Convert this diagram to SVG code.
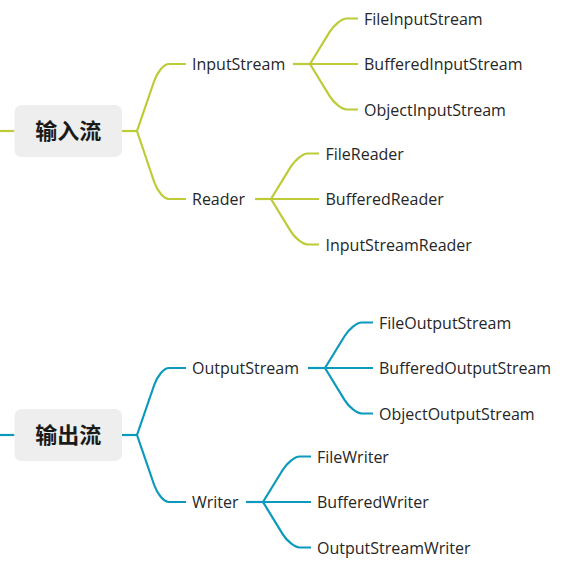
<svg xmlns="http://www.w3.org/2000/svg" width="581" height="579" viewBox="0 0 581 579">
<style>
.bg{fill:#ffffff}
.root{fill:#eeeeee}
.rt{font-family:"Noto Sans CJK SC","Noto Sans",sans-serif;font-size:22px;font-weight:bold;fill:#1a1a1a;text-anchor:middle}
.t{font-family:"Open Sans","Noto Sans",sans-serif;font-size:16px;fill:#262626}
.g path{fill:none;stroke:#bccb36;stroke-width:2.2;stroke-linecap:butt;stroke-linejoin:round}
.b path{fill:none;stroke:#0c99bd;stroke-width:2.2;stroke-linecap:butt;stroke-linejoin:round}
</style>
<rect class="bg" x="0" y="0" width="581" height="579"/>
<g id="connectors">
  <g class="g">
    <path d="M0,131 H14.5"/>
    <path d="M122,131 H137"/>
    <path d="M137,131 L154.2,81 C157.4,71.7 164,64 169,64 H186"/>
    <path d="M137,131 L154.2,182 C157.4,191.3 164,199 169,199 H186"/>
    <path d="M293,64 H310"/>
    <path d="M310,64 L329.5,32.2 C334.1,24.7 341.8,18.5 346.7,18.5 H358"/>
    <path d="M310,64 H358"/>
    <path d="M310,64 L329.5,95.8 C334.1,103.3 341.8,109.5 346.7,109.5 H358"/>
    <path d="M255,199 H271"/>
    <path d="M271,199 L290.5,167.2 C295.1,159.7 302.8,153.5 307.7,153.5 H319"/>
    <path d="M271,199 H319"/>
    <path d="M271,199 L290.5,230.8 C295.1,238.3 302.8,244.5 307.7,244.5 H319"/>
  </g>
  <g class="b">
    <path d="M0,435 H14.5"/>
    <path d="M122,435 H137"/>
    <path d="M137,435 L154.2,385 C157.4,375.7 164,368 169,368 H186"/>
    <path d="M137,435 L154.2,485 C157.4,494.3 164,502 169,502 H186"/>
    <path d="M308,368 H325"/>
    <path d="M325,368 L344.5,336.2 C349.1,328.7 356.8,322.5 361.7,322.5 H373"/>
    <path d="M325,368 H373"/>
    <path d="M325,368 L344.5,399.8 C349.1,407.3 356.8,413.5 361.7,413.5 H373"/>
    <path d="M246,502 H263"/>
    <path d="M263,502 L282.5,470.2 C287.1,462.7 294.8,456.5 299.7,456.5 H311"/>
    <path d="M263,502 H311"/>
    <path d="M263,502 L282.5,533.8 C287.1,541.3 294.8,547.5 299.7,547.5 H311"/>
  </g>
</g>
<g id="input-root"><rect class="root" x="14.5" y="105" width="107.5" height="52" rx="7"/><text class="rt" x="68.3" y="138.5">输入流</text></g>
<g id="inputstream"><text class="t" x="192" y="70">InputStream</text></g>
<g id="fileinputstream"><text class="t" x="364" y="24.5">FileInputStream</text></g>
<g id="bufferedinputstream"><text class="t" x="364" y="70">BufferedInputStream</text></g>
<g id="objectinputstream"><text class="t" x="364" y="115.5">ObjectInputStream</text></g>
<g id="reader"><text class="t" x="192" y="205">Reader</text></g>
<g id="filereader"><text class="t" x="325.5" y="159.5">FileReader</text></g>
<g id="bufferedreader"><text class="t" x="325.5" y="205">BufferedReader</text></g>
<g id="inputstreamreader"><text class="t" x="325.5" y="250.5">InputStreamReader</text></g>
<g id="output-root"><rect class="root" x="14.5" y="409" width="107.5" height="52" rx="7"/><text class="rt" x="68.3" y="442.5">输出流</text></g>
<g id="outputstream"><text class="t" x="192" y="374">OutputStream</text></g>
<g id="fileoutputstream"><text class="t" x="379" y="328.5">FileOutputStream</text></g>
<g id="bufferedoutputstream"><text class="t" x="379" y="374">BufferedOutputStream</text></g>
<g id="objectoutputstream"><text class="t" x="379" y="419.5">ObjectOutputStream</text></g>
<g id="writer"><text class="t" x="192" y="508">Writer</text></g>
<g id="filewriter"><text class="t" x="317" y="462.5">FileWriter</text></g>
<g id="bufferedwriter"><text class="t" x="317" y="508">BufferedWriter</text></g>
<g id="outputstreamwriter"><text class="t" x="317" y="553.5">OutputStreamWriter</text></g>
</svg>
